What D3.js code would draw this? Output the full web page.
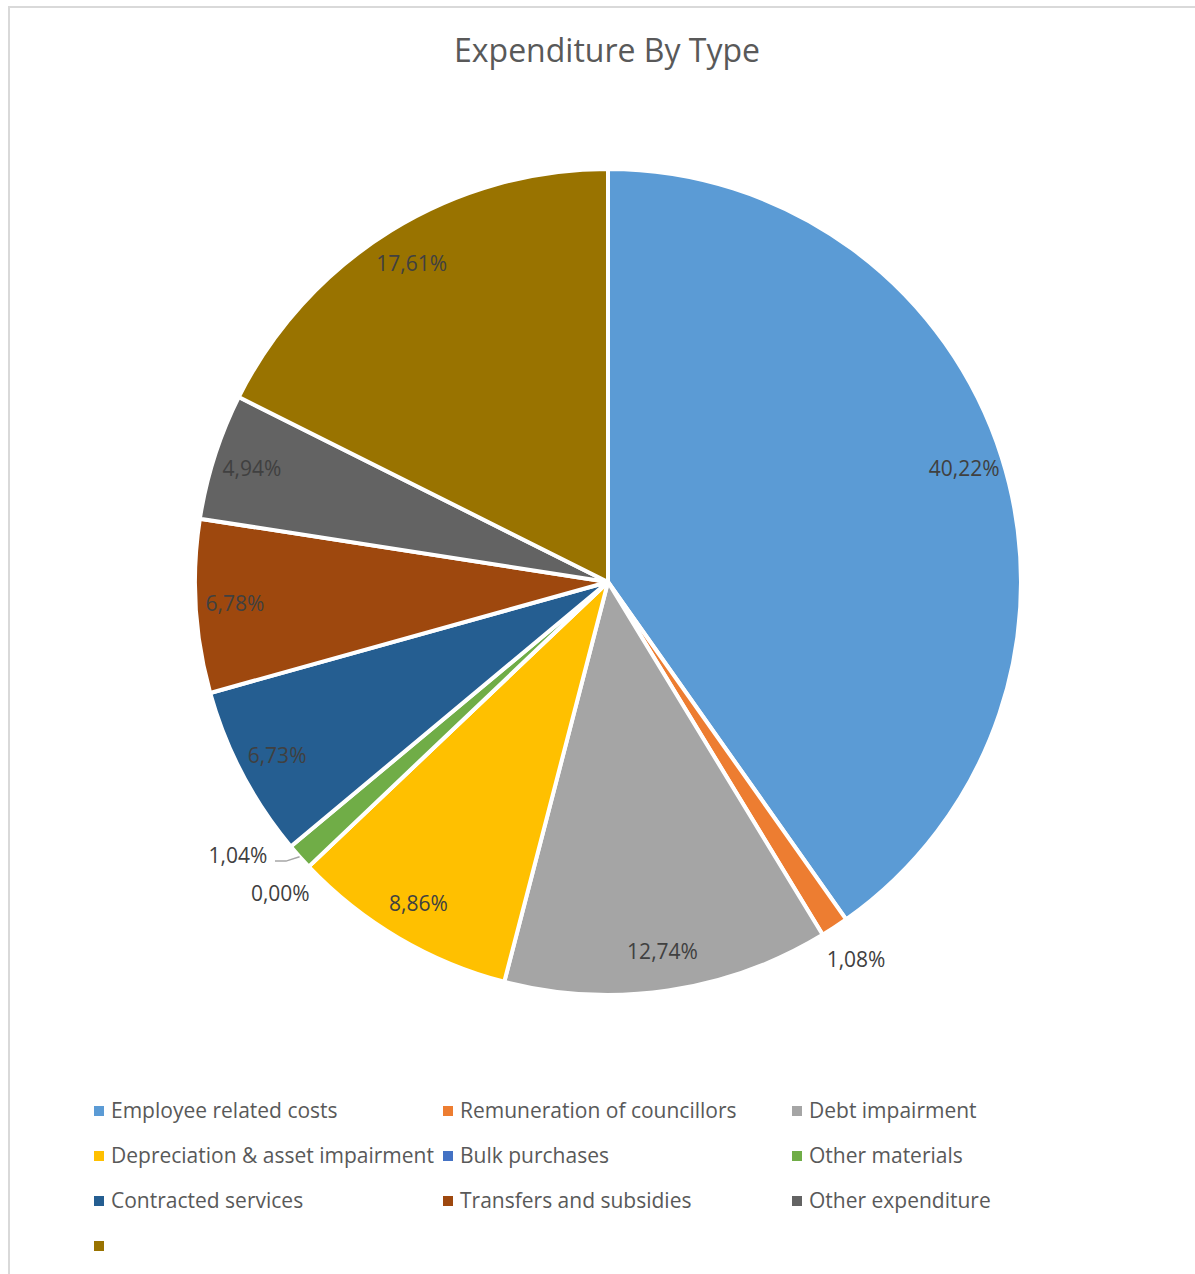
<!DOCTYPE html>
<html lang="en">
<head>
<meta charset="UTF-8">
<title>Expenditure By Type</title>
<style>
  body { margin: 0; background: #fff; }
  text { font-family: "Open Sans", "Noto Sans", sans-serif; }
</style>
</head>
<body>
<div id="chart"></div>
<script src="https://d3js.org/d3.v7.min.js"></script>
<script>
// data
const categories = [
  "Employee related costs", "Remuneration of councillors", "Debt impairment",
  "Depreciation & asset impairment", "Bulk purchases", "Other materials",
  "Contracted services", "Transfers and subsidies", "Other expenditure", ""
];
const shares = [40.22, 1.08, 12.74, 8.86, 0.00, 1.04, 6.73, 6.78, 4.94, 17.61];
const colors = ["#5B9BD5", "#ED7D31", "#A5A5A5", "#FFC000", "#4472C4",
                "#70AD47", "#255E91", "#9E480E", "#636363", "#997300"];

const W = 1195, H = 1274;
const cx = 608, cy = 582, r = 413;

const svg = d3.select("#chart").append("svg")
  .attr("width", W).attr("height", H);

// chart frame (runs off the page on the right and bottom)
svg.append("rect")
  .attr("x", 9).attr("y", 7)
  .attr("width", W + 20).attr("height", H + 20)
  .attr("fill", "#fff")
  .attr("stroke", "#D9D9D9")
  .attr("stroke-width", 2);

svg.append("text")
  .attr("x", 607).attr("y", 62)
  .attr("text-anchor", "middle")
  .style("font-size", "32px")
  .style("fill", "#595959")
  .text("Expenditure By Type");

const data = categories.map((c, i) => ({ name: c, value: shares[i], color: colors[i] }));

const pie = d3.pie().sort(null).value(d => d.value);
const arcs = pie(data);

const arc = d3.arc().innerRadius(0).outerRadius(r);
const labelArc = d3.arc().innerRadius(r * 0.905).outerRadius(r * 0.905);

const g = svg.append("g").attr("transform", `translate(${cx},${cy})`);

g.selectAll("path.slice")
  .data(arcs)
  .join("path")
  .attr("class", "slice")
  .attr("d", arc)
  .attr("fill", d => d.data.color)
  .attr("stroke", "#fff")
  .attr("stroke-width", 4)
  .attr("stroke-linejoin", "round");

const fmt = v => d3.format(".2f")(v).replace(".", ",") + "%";

// small slices get their label outside; "Other materials" is nudged and gets a leader line
const nudge = { "Other materials": 0.09 };

function labelPos(d) {
  const small = d.data.value < 2;
  if (!small) return labelArc.centroid(d);
  const extra = nudge[d.data.name] || 0;
  const a = (d.startAngle + d.endAngle) / 2 + extra;
  const rr = r * (extra ? 1.115 : 1.095);
  return [rr * Math.sin(a), -rr * Math.cos(a)];
}

arcs.filter(d => nudge[d.data.name]).forEach(d => {
  const a = (d.startAngle + d.endAngle) / 2;
  const p0 = [r * Math.sin(a), -r * Math.cos(a)];
  const lp = labelPos(d);
  const p1 = [lp[0] + 48, lp[1] + 5];
  const p2 = [lp[0] + 37, lp[1] + 5];
  g.append("polyline")
    .attr("points", [p0, p1, p2].map(p => p.join(",")).join(" "))
    .attr("fill", "none")
    .attr("stroke", "#A6A6A6")
    .attr("stroke-width", 1.5);
});

g.selectAll("text.lbl")
  .data(arcs)
  .join("text")
  .attr("class", "lbl")
  .attr("transform", d => `translate(${labelPos(d)})`)
  .attr("text-anchor", "middle")
  .attr("dy", "0.35em")
  .style("font-size", "21px")
  .style("fill", "#404040")
  .text(d => fmt(d.data.value));

// legend, three columns
const legend = svg.append("g");
const colX = [94, 443, 792], rowY0 = 1111, rowH = 45;

const item = legend.selectAll("g")
  .data(data)
  .join("g")
  .attr("transform", (d, i) => `translate(${colX[i % 3]},${rowY0 + Math.floor(i / 3) * rowH})`);

item.append("rect")
  .attr("x", 0).attr("y", -5)
  .attr("width", 10).attr("height", 10)
  .attr("fill", d => d.color);

item.append("text")
  .attr("x", 17).attr("dy", "0.35em")
  .style("font-size", "21px")
  .style("fill", "#595959")
  .text(d => d.name);
</script>
</body>
</html>
